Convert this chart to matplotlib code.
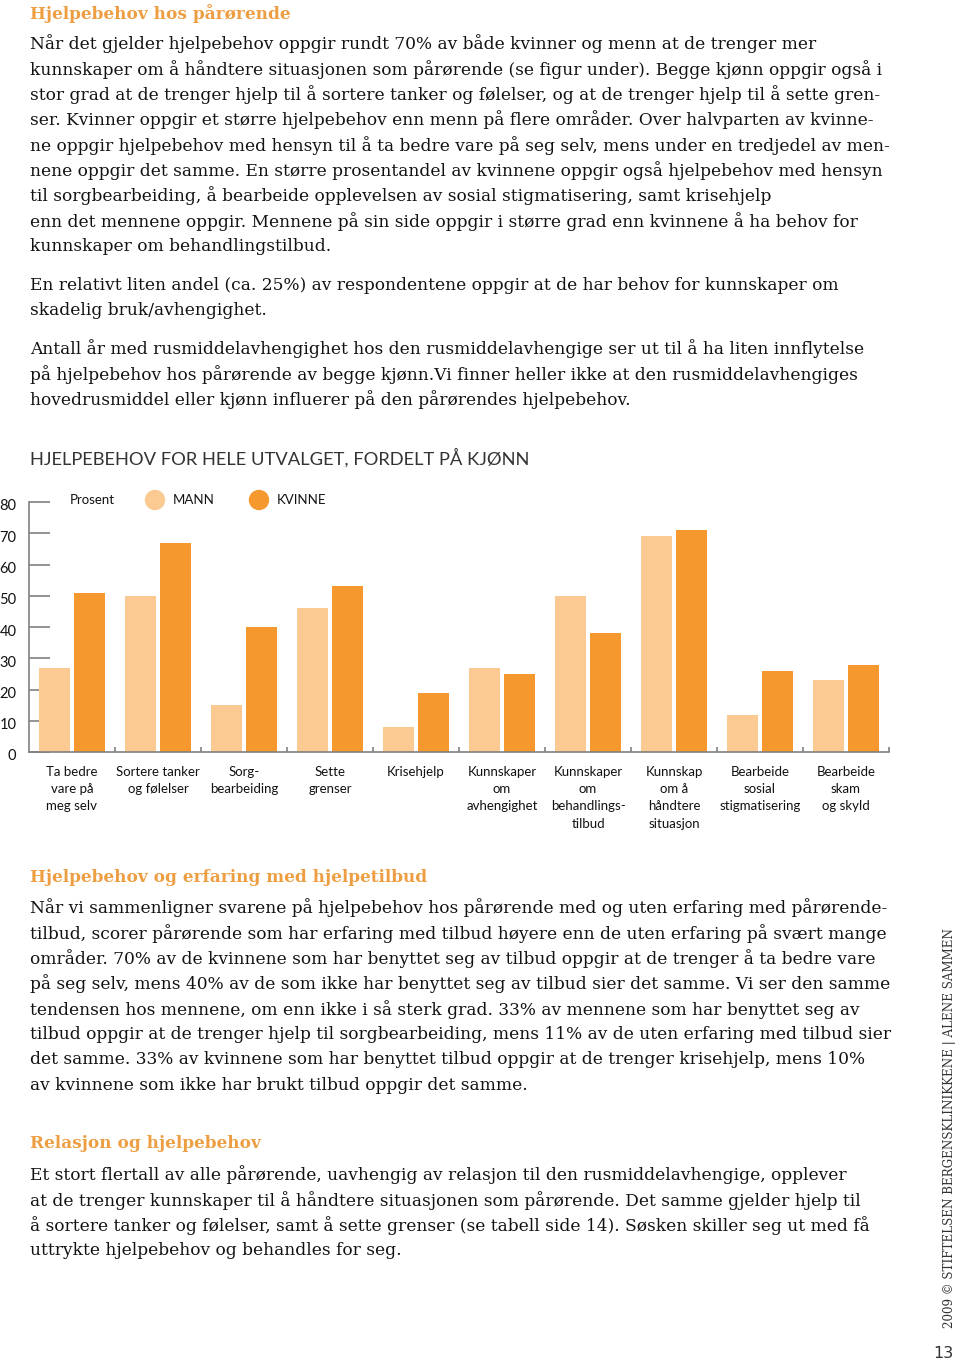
import numpy as np
import matplotlib
matplotlib.use("Agg")
import matplotlib.pyplot as plt
from matplotlib.patches import Ellipse
from matplotlib.transforms import ScaledTranslation

W, H = 960, 1363

# chart data (prosent)
categories = ["Ta bedre\nvare på\nmeg selv", "Sortere tanker\nog følelser", "Sorg-\nbearbeiding",
              "Sette\ngrenser", "Krisehjelp", "Kunnskaper\nom\navhengighet",
              "Kunnskaper\nom\nbehandlings-\ntilbud", "Kunnskap\nom å\nhåndtere\nsituasjon",
              "Bearbeide\nsosial\nstigmatisering", "Bearbeide\nskam\nog skyld"]
mann = [27, 50, 15, 46, 8, 27, 50, 69, 12, 23]
kvinne = [51, 67, 40, 53, 19, 25, 38, 71, 26, 28]
y_ticks = [0, 10, 20, 30, 40, 50, 60, 70, 80]

chart_title = "HJELPEBEHOV FOR HELE UTVALGET, FORDELT PÅ KJØNN"

heading1 = "Hjelpebehov hos pårørende"
para1 = ["Når det gjelder hjelpebehov oppgir rundt 70% av både kvinner og menn at de trenger mer",
         "kunnskaper om å håndtere situasjonen som pårørende (se figur under). Begge kjønn oppgir også i",
         "stor grad at de trenger hjelp til å sortere tanker og følelser, og at de trenger hjelp til å sette gren-",
         "ser. Kvinner oppgir et større hjelpebehov enn menn på flere områder. Over halvparten av kvinne-",
         "ne oppgir hjelpebehov med hensyn til å ta bedre vare på seg selv, mens under en tredjedel av men-",
         "nene oppgir det samme. En større prosentandel av kvinnene oppgir også hjelpebehov med hensyn",
         "til sorgbearbeiding, å bearbeide opplevelsen av sosial stigmatisering, samt krisehjelp",
         "enn det mennene oppgir. Mennene på sin side oppgir i større grad enn kvinnene å ha behov for",
         "kunnskaper om behandlingstilbud."]
para2 = ["En relativt liten andel (ca. 25%) av respondentene oppgir at de har behov for kunnskaper om",
         "skadelig bruk/avhengighet."]
para3 = ["Antall år med rusmiddelavhengighet hos den rusmiddelavhengige ser ut til å ha liten innflytelse",
         "på hjelpebehov hos pårørende av begge kjønn.Vi finner heller ikke at den rusmiddelavhengiges",
         "hovedrusmiddel eller kjønn influerer på den pårørendes hjelpebehov."]
heading2 = "Hjelpebehov og erfaring med hjelpetilbud"
para4 = ["Når vi sammenligner svarene på hjelpebehov hos pårørende med og uten erfaring med pårørende-",
         "tilbud, scorer pårørende som har erfaring med tilbud høyere enn de uten erfaring på svært mange",
         "områder. 70% av de kvinnene som har benyttet seg av tilbud oppgir at de trenger å ta bedre vare",
         "på seg selv, mens 40% av de som ikke har benyttet seg av tilbud sier det samme. Vi ser den samme",
         "tendensen hos mennene, om enn ikke i så sterk grad. 33% av mennene som har benyttet seg av",
         "tilbud oppgir at de trenger hjelp til sorgbearbeiding, mens 11% av de uten erfaring med tilbud sier",
         "det samme. 33% av kvinnene som har benyttet tilbud oppgir at de trenger krisehjelp, mens 10%",
         "av kvinnene som ikke har brukt tilbud oppgir det samme."]
heading3 = "Relasjon og hjelpebehov"
para5 = ["Et stort flertall av alle pårørende, uavhengig av relasjon til den rusmiddelavhengige, opplever",
         "at de trenger kunnskaper til å håndtere situasjonen som pårørende. Det samme gjelder hjelp til",
         "å sortere tanker og følelser, samt å sette grenser (se tabell side 14). Søsken skiller seg ut med få",
         "uttrykte hjelpebehov og behandles for seg."]

LIGHT = "#FBCA93"
DARK = "#F5982D"
HEAD = "#EE9E42"
TXT = "#141112"
AX = "#808080"

fig = plt.figure(figsize=(W / 100, H / 100), dpi=100)


def fx(x):
    return x / W


def fy(y):
    return 1 - y / H


def body(lines, y0, step=25.3):
    for i, s in enumerate(lines):
        fig.text(fx(30), fy(y0 + i * step), s, family="DejaVu Serif", fontsize=12.25,
                 color=TXT, va="center", ha="left")


def heading(s, y):
    fig.text(fx(30), fy(y), s, family="DejaVu Serif", fontsize=12.2, weight="bold",
             color=HEAD, va="center", ha="left")


heading(heading1, 14)
body(para1, 44)
body(para2, 285)
body(para3, 349)
heading(heading2, 877)
body(para4, 908)
heading(heading3, 1144)
body(para5, 1175)

fig.text(fx(30), fy(458), chart_title, family="Lato", fontsize=13.25, color="#333333",
         va="center", ha="left")

# chart
ax = fig.add_axes([fx(29), fy(752), fx(860), 250 / H])
x = np.arange(len(categories)) + 0.5
bw = 0.36
ax.bar(x - 0.198, mann, bw, color=LIGHT, zorder=2)
ax.bar(x + 0.198, kvinne, bw, color=DARK, zorder=2)
ax.set_xlim(0, 10)
ax.set_ylim(0, 80)
for s in ["top", "right"]:
    ax.spines[s].set_visible(False)
for s in ["left", "bottom"]:
    ax.spines[s].set_color(AX)
    ax.spines[s].set_linewidth(1.2)
    ax.spines[s].set_zorder(3)

ax.set_yticks(y_ticks)
ax.set_yticklabels([str(v) for v in y_ticks], family="Lato", fontsize=10.5, color=TXT)
ax.tick_params(axis="y", direction="in", length=15, width=1.2, color=AX, pad=9)
shift = ScaledTranslation(0, -3 / 100, fig.dpi_scale_trans)
for t in ax.get_yticklabels():
    t.set_transform(t.get_transform() + shift)

ax.set_xticks(x)
ax.set_xticklabels(categories, family="Lato", fontsize=9.5, color=TXT, linespacing=1.53)
ax.set_xticks(np.arange(1, 11), minor=True)
ax.tick_params(axis="x", which="major", length=0, pad=10)
ax.tick_params(axis="x", which="minor", direction="in", length=3.5, width=1.2, color=AX)

# legend
fig.text(fx(70), fy(500), "Prosent", family="Lato", fontsize=9.5, color=TXT, va="center")
for cx, lab, col in [(155, "MANN", LIGHT), (259, "KVINNE", DARK)]:
    fig.add_artist(Ellipse((fx(cx), fy(500)), 19 / W, 19 / H, transform=fig.transFigure,
                           color=col))
    fig.text(fx(cx + 18), fy(500), lab, family="Lato", fontsize=9.5, color=TXT, va="center")

# side text
fig.text(fx(950), fy(1128), "2009 © STIFTELSEN BERGENSKLINIKKENE | ALENE SAMMEN",
         family="DejaVu Serif", fontsize=8.6, color="#333333", rotation=90,
         va="center", ha="center")
fig.text(fx(943), fy(1353), "13", family="DejaVu Sans", fontsize=11.5, color="#333333",
         va="center", ha="center")

fig.savefig("out.png", dpi=100)
